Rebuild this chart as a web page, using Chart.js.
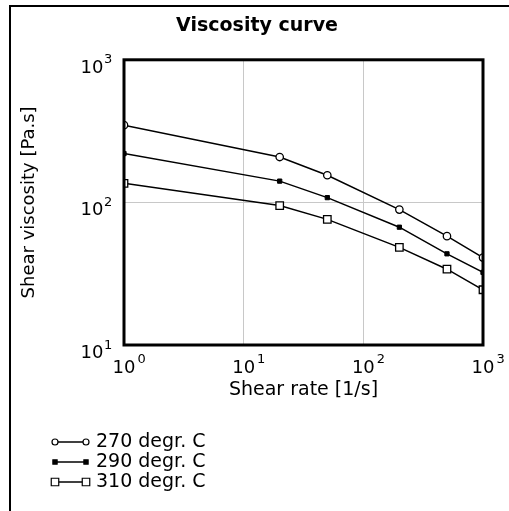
<!DOCTYPE html>
<html>
<head>
<meta charset="utf-8">
<script src="https://cdn.jsdelivr.net/npm/chart.js@4"></script>
<style>
  body { margin: 0; background: #fff; overflow: hidden; }
  #wrap { width: 509px; height: 511px; position: relative; }
</style>
</head>
<body>
<div id="wrap"><canvas id="myChart"></canvas></div>
<script>
// values
const shearRate = [1, 20, 50, 200, 500, 1000];
const visc270 = [348, 208, 155, 89, 58, 41];
const visc290 = [220, 141, 108, 67, 43.6, 32.3];
const visc310 = [136, 95, 76, 48.4, 34, 24.4];
const seriesLabels = ['270 degr. C', '290 degr. C', '310 degr. C'];
const xDecades = [1, 10, 100, 1000];
const yDecades = [10, 100, 1000];

const FONT = '"DejaVu Sans", sans-serif';

function toPoints(ys) {
    return shearRate.map((x, i) => ({ x: x, y: ys[i] }));
}

function drawMark(ctx, style, r, fill, x, y) {
    ctx.beginPath();
    if (style === 'circle') {
        ctx.arc(x, y, r, 0, Math.PI * 2);
    } else {
        const s = r * Math.SQRT1_2;
        ctx.rect(x - s, y - s, 2 * s, 2 * s);
    }
    ctx.fillStyle = fill;
    ctx.fill();
    ctx.stroke();
}

// plot frame (all four sides, thick)
const plotFrame = {
    id: 'plotFrame',
    afterDatasetsDraw(chart) {
        const { ctx, chartArea: a } = chart;
        ctx.save();
        ctx.strokeStyle = '#000';
        ctx.lineWidth = 3;
        ctx.strokeRect(a.left, a.top, a.right - a.left, a.bottom - a.top);
        ctx.restore();
    }
};

// "10" with exponent for every decade tick
const decadeLabels = {
    id: 'decadeLabels',
    afterDraw(chart) {
        const { ctx, chartArea: a } = chart;
        const xs = chart.scales.x, ys = chart.scales.y;
        ctx.save();
        ctx.fillStyle = '#000';
        ctx.textBaseline = 'alphabetic';
        xs.ticks.forEach(t => {
            const px = xs.getPixelForValue(t.value);
            ctx.font = '18px ' + FONT;
            ctx.textAlign = 'center';
            ctx.fillText('10', px, a.bottom + 28);
            const w = ctx.measureText('10').width;
            ctx.font = '13px ' + FONT;
            ctx.textAlign = 'left';
            ctx.fillText(String(Math.round(Math.log10(t.value))), px + w / 2 + 2, a.bottom + 18);
        });
        ys.ticks.forEach(t => {
            const py = ys.getPixelForValue(t.value);
            ctx.font = '18px ' + FONT;
            ctx.textAlign = 'right';
            ctx.fillText('10', a.left - 20.5, py + 13);
            ctx.font = '13px ' + FONT;
            ctx.textAlign = 'left';
            ctx.fillText(String(Math.round(Math.log10(t.value))), a.left - 20, py + 3.5);
        });
        ctx.restore();
    }
};

// legend stacked at bottom left + outer frame lines
const sideLegend = {
    id: 'sideLegend',
    afterDraw(chart) {
        const ctx = chart.ctx;
        ctx.save();
        ctx.strokeStyle = '#000';
        ctx.lineWidth = 2;
        ctx.beginPath();
        ctx.moveTo(10, 511);
        ctx.lineTo(10, 6);
        ctx.lineTo(509, 6);
        ctx.stroke();

        chart.data.datasets.forEach((ds, i) => {
            const y = 442 + i * 20;
            ctx.strokeStyle = '#000';
            ctx.lineWidth = 1.5;
            ctx.beginPath();
            ctx.moveTo(55, y);
            ctx.lineTo(86, y);
            ctx.stroke();
            ctx.lineWidth = 1.2;
            const r = ds.pointStyle === 'circle' ? 3 : ds.pointRadius;
            drawMark(ctx, ds.pointStyle, r, ds.pointBackgroundColor, 55, y);
            drawMark(ctx, ds.pointStyle, r, ds.pointBackgroundColor, 86, y);
            ctx.fillStyle = '#000';
            ctx.font = '19px ' + FONT;
            ctx.textAlign = 'left';
            ctx.textBaseline = 'alphabetic';
            ctx.fillText(ds.label, 96, y + 5);
        });
        ctx.restore();
    }
};

const ctx = document.getElementById('myChart').getContext('2d');
const chart = new Chart(ctx, {
    type: 'line',
    data: {
        datasets: [{
            label: seriesLabels[0],
            data: toPoints(visc270),
            borderColor: '#000',
            borderWidth: 1.5,
            pointStyle: 'circle',
            pointRadius: 3.7,
            pointBorderWidth: 1.3,
            pointBackgroundColor: '#fff',
            pointBorderColor: '#000',
            tension: 0,
            clip: 0
        }, {
            label: seriesLabels[1],
            data: toPoints(visc290),
            borderColor: '#000',
            borderWidth: 1.5,
            pointStyle: 'rect',
            pointRadius: 3,
            pointBorderWidth: 1,
            pointBackgroundColor: '#000',
            pointBorderColor: '#000',
            tension: 0,
            clip: 0
        }, {
            label: seriesLabels[2],
            data: toPoints(visc310),
            borderColor: '#000',
            borderWidth: 1.5,
            pointStyle: 'rect',
            pointRadius: 5.3,
            pointBorderWidth: 1.3,
            pointBackgroundColor: '#fff',
            pointBorderColor: '#000',
            tension: 0,
            clip: 0
        }]
    },
    options: {
        responsive: true,
        maintainAspectRatio: false,
        animation: false,
        layout: { padding: { left: 31, right: 26, top: 0, bottom: 0 } },
        scales: {
            x: {
                type: 'logarithmic',
                min: 1,
                max: 1000,
                afterBuildTicks: (s) => { s.ticks = xDecades.map(v => ({ value: v })); },
                afterFit: (s) => { s.height = 166; },
                ticks: { display: false },
                grid: { color: '#c8c8c8', lineWidth: 1, drawTicks: false },
                border: { display: false },
                title: {
                    display: true,
                    text: 'Shear rate [1/s]',
                    color: '#000',
                    font: { family: FONT, size: 19 },
                    padding: { top: 0, bottom: 110 }
                }
            },
            y: {
                type: 'logarithmic',
                min: 10,
                max: 1000,
                afterBuildTicks: (s) => { s.ticks = yDecades.map(v => ({ value: v })); },
                afterFit: (s) => { s.width = 93; },
                ticks: { display: false },
                grid: { color: '#c8c8c8', lineWidth: 1, drawTicks: false },
                border: { display: false },
                title: {
                    display: true,
                    text: 'Shear viscosity [Pa.s]',
                    color: '#000',
                    font: { family: FONT, size: 18 },
                    padding: { top: -12, bottom: 0 }
                }
            }
        },
        plugins: {
            legend: { display: false },
            tooltip: { enabled: false },
            title: {
                display: true,
                text: 'Viscosity curve',
                color: '#000',
                font: { family: FONT, size: 19, weight: 'bold' },
                padding: { top: 15, bottom: 22 }
            }
        }
    },
    plugins: [plotFrame, decadeLabels, sideLegend]
});
</script>
</body>
</html>
